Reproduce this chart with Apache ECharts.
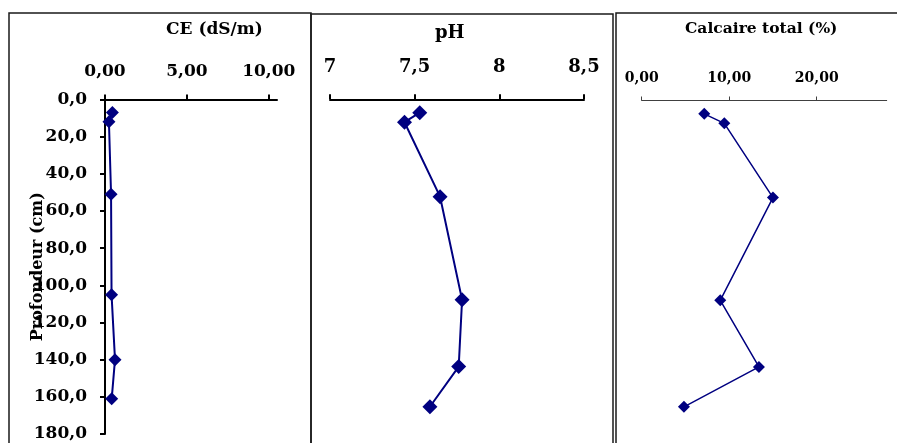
<!DOCTYPE html>
<html>
<head>
<meta charset="utf-8">
<script src="https://cdn.jsdelivr.net/npm/echarts@6/dist/echarts.min.js"></script>
<style>
html,body{margin:0;padding:0;background:#fff;}
#chart{width:897px;height:443px;}
</style>
</head>
<body>
<div id="chart"></div>
<script>
// ---- data ----
const depths = [7, 12, 51, 105, 140, 161];           // Profondeur (cm)
const ceValues = [0.45, 0.24, 0.37, 0.40, 0.61, 0.41]; // CE (dS/m)
const phValues = [7.53, 7.44, 7.65, 7.78, 7.76, 7.59]; // pH
const calcValues = [7.15, 9.44, 15.0, 8.98, 13.4, 4.83]; // Calcaire total (%)

const depthTicks = [0, 20, 40, 60, 80, 100, 120, 140, 160, 180];
const ceTicks = [0, 5, 10];
const phTicks = [7, 7.5, 8, 8.5];
const calcTicks = [0, 10, 20];

const titles = ['CE (dS/m)', 'pH', 'Calcaire total (%)'];
const depthName = 'Profondeur (cm)';

// ---- chart ----
const FONT = 'DejaVu Serif';
const NAVY = '#000080';
const comma = (v, d) => v.toFixed(d).replace('.', ',');

function pairs(xs) { return xs.map((x, i) => [x, depths[i]]); }

const chart = echarts.init(document.getElementById('chart'), null, {renderer: 'canvas'});

const baseLabel = {color: '#000', fontFamily: FONT, fontWeight: 'bold'};

chart.setOption({
  animation: false,
  backgroundColor: '#fff',
  title: [
    {text: titles[0], left: 166, top: 21, padding: 0,
     textStyle: {fontFamily: FONT, fontWeight: 'bold', fontSize: 17, color: '#000'}},
    {text: titles[1], left: 435, top: 24, padding: 0,
     textStyle: {fontFamily: FONT, fontWeight: 'bold', fontSize: 18, color: '#000'}},
    {text: titles[2], left: 685, top: 21, padding: 0,
     textStyle: {fontFamily: FONT, fontWeight: 'bold', fontSize: 15.5, color: '#000'}}
  ],
  graphic: [
    {type: 'rect', shape: {x: 9, y: 13, width: 302, height: 500},
     style: {fill: 'none', stroke: '#1a1a1a', lineWidth: 1.5}, silent: true},
    {type: 'rect', shape: {x: 311, y: 14, width: 302, height: 500},
     style: {fill: 'none', stroke: '#1a1a1a', lineWidth: 1.5}, silent: true},
    {type: 'rect', shape: {x: 616, y: 13, width: 400, height: 500},
     style: {fill: 'none', stroke: '#1a1a1a', lineWidth: 1.5}, silent: true}
  ],
  grid: [
    {left: 105, top: 99.5, width: 172, height: 334.5},
    {left: 330, top: 99.3, width: 254, height: 347.4},
    {left: 641.7, top: 100.5, width: 245, height: 347.6}
  ],
  xAxis: [
    {gridIndex: 0, type: 'value', position: 'top', min: 0, max: 10.5,
     splitLine: {show: false},
     axisLine: {lineStyle: {color: '#000', width: 2}},
     axisTick: {customValues: ceTicks, length: 5, lineStyle: {color: '#000', width: 2}},
     axisLabel: Object.assign({}, baseLabel, {customValues: ceTicks, fontSize: 17, margin: 19,
       formatter: v => comma(v, 2)})},
    {gridIndex: 1, type: 'value', position: 'top', min: 7, max: 8.5,
     splitLine: {show: false},
     axisLine: {lineStyle: {color: '#000', width: 2}},
     axisTick: {customValues: phTicks, length: 5, lineStyle: {color: '#000', width: 2}},
     axisLabel: Object.assign({}, baseLabel, {customValues: phTicks, fontSize: 18, margin: 23,
       formatter: v => (Number.isInteger(v) ? String(v) : comma(v, 1))})},
    {gridIndex: 2, type: 'value', position: 'top', min: 0, max: 28,
     splitLine: {show: false},
     axisLine: {lineStyle: {color: '#404040', width: 1}},
     axisTick: {customValues: calcTicks, length: 4, lineStyle: {color: '#404040', width: 1}},
     axisLabel: Object.assign({}, baseLabel, {customValues: calcTicks, fontSize: 14, margin: 15,
       formatter: v => comma(v, 2)})}
  ],
  yAxis: [
    {gridIndex: 0, type: 'value', inverse: true, min: 0, max: 180, interval: 20,
     splitLine: {show: false},
     name: depthName, nameLocation: 'middle', nameGap: 59, nameRotate: 90,
     nameMoveOverlap: false,
     nameTextStyle: {color: '#000', fontFamily: FONT, fontWeight: 'bold', fontSize: 16},
     axisLine: {show: true, lineStyle: {color: '#000', width: 2}},
     axisTick: {show: true, customValues: depthTicks, length: 5, lineStyle: {color: '#000', width: 2}},
     axisLabel: Object.assign({}, baseLabel, {customValues: depthTicks, fontSize: 17, margin: 18,
       formatter: v => comma(v, 1)})},
    {gridIndex: 1, type: 'value', inverse: true, min: 0, max: 180, show: false},
    {gridIndex: 2, type: 'value', inverse: true, min: 0, max: 180, show: false}
  ],
  series: [
    {type: 'line', xAxisIndex: 0, yAxisIndex: 0, data: pairs(ceValues),
     symbol: 'diamond', symbolSize: 13, itemStyle: {color: NAVY},
     lineStyle: {color: NAVY, width: 2}},
    {type: 'line', xAxisIndex: 1, yAxisIndex: 1, data: pairs(phValues),
     symbol: 'diamond', symbolSize: 15, itemStyle: {color: NAVY},
     lineStyle: {color: NAVY, width: 2}},
    {type: 'line', xAxisIndex: 2, yAxisIndex: 2, data: pairs(calcValues),
     symbol: 'diamond', symbolSize: 12, itemStyle: {color: NAVY},
     lineStyle: {color: NAVY, width: 1.5}}
  ]
});
</script>
</body>
</html>
